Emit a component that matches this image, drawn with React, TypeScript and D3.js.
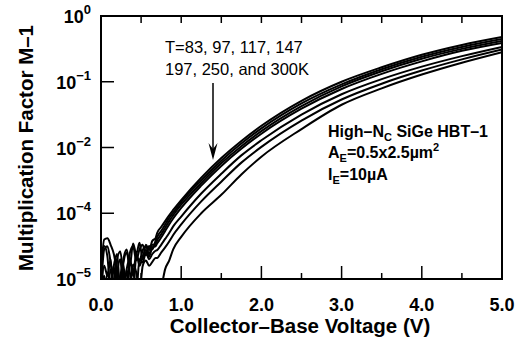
import React from "react";
import * as d3 from "d3";

// Collector-base voltage sample points (V)
const noiseV = [0, 0.04, 0.08, 0.12, 0.16, 0.2, 0.24, 0.28, 0.32, 0.36, 0.4, 0.44, 0.48, 0.52, 0.56, 0.6, 0.64, 0.68];
const riseV = [0.7, 0.75, 0.8, 0.85, 0.9, 1.0, 1.25, 1.5, 1.75, 2.0, 2.5, 3.0, 3.5, 4.0, 4.5, 5.0];

const temps = ["83K", "97K", "117K", "147K", "197K", "250K", "300K"];

// log10(M-1) as plotted (noise floor part)
const noise83 = [-3.9, -3.4, -3.38, -3.48, -3.62, -3.9, -4.2, -3.7, -3.55, -3.8, -3.46, -3.62, -3.45, -3.7, -3.48, -3.56, -3.42, -3.38];
const noise97 = [-4.2, -3.55, -3.5, -3.75, -4.1, -3.7, -3.58, -3.95, -4.2, -3.6, -3.5, -3.72, -3.55, -3.48, -3.64, -3.5, -3.55, -3.42];
const noise117 = [-3.7, -3.5, -3.66, -4.2, -3.8, -3.62, -4.15, -3.75, -3.6, -3.9, -4.2, -3.66, -3.72, -3.56, -3.5, -3.62, -3.48, -3.47];
const noise147 = [-4.3, -3.8, -3.95, -3.7, -4.3, -3.9, -3.7, -4.2, -3.85, -3.68, -3.95, -3.6, -3.8, -3.66, -3.56, -3.66, -3.52, -3.5];
const noise197 = [-4.1, -4.3, -3.9, -4.05, -3.8, -4.3, -3.95, -3.78, -4.3, -3.76, -3.85, -4.2, -3.7, -3.75, -3.6, -3.7, -3.62, -3.57];
const noise250 = [-4.4, -3.95, -4.3, -3.85, -4.1, -4.4, -4.0, -4.3, -3.86, -4.15, -3.78, -3.9, -4.2, -3.8, -3.72, -3.8, -3.74, -3.68];
const noise300 = [-4.6, -4.5, -4.7, -4.6, -4.5, -4.7, -4.6, -4.5, -4.7, -4.6, -4.5, -4.6, -4.7, -4.5, -4.6, -4.5, -4.6, -4.5];

// log10(M-1) rising part
const rise83 = [-3.3, -3.21, -3.12, -3.03, -2.95, -2.8, -2.46, -2.16, -1.9, -1.67, -1.29, -1.0, -0.78, -0.59, -0.44, -0.32];
const rise97 = [-3.36, -3.27, -3.17, -3.07, -2.99, -2.83, -2.5, -2.2, -1.94, -1.71, -1.33, -1.04, -0.81, -0.62, -0.47, -0.35];
const rise117 = [-3.41, -3.32, -3.22, -3.12, -3.03, -2.87, -2.54, -2.24, -1.98, -1.75, -1.37, -1.07, -0.84, -0.65, -0.5, -0.38];
const rise147 = [-3.46, -3.37, -3.27, -3.17, -3.08, -2.92, -2.58, -2.28, -2.02, -1.79, -1.41, -1.11, -0.88, -0.69, -0.53, -0.41];
const rise197 = [-3.56, -3.48, -3.39, -3.3, -3.2, -3.05, -2.7, -2.4, -2.12, -1.89, -1.5, -1.19, -0.96, -0.77, -0.61, -0.47];
const rise250 = [-3.68, -3.6, -3.52, -3.43, -3.33, -3.17, -2.82, -2.52, -2.23, -1.99, -1.59, -1.27, -1.03, -0.83, -0.66, -0.51];
const rise300 = [-4.4, -4.15, -3.85, -3.72, -3.55, -3.36, -3.0, -2.72, -2.41, -2.14, -1.72, -1.35, -1.1, -0.89, -0.71, -0.55];

const noiseSeries = [noise83, noise97, noise117, noise147, noise197, noise250, noise300];
const riseSeries = [rise83, rise97, rise117, rise147, rise197, rise250, rise300];

const xTickValues = [0, 1, 2, 3, 4, 5];
const xTickLabels = ["0.0", "1.0", "2.0", "3.0", "4.0", "5.0"];
const xMinorValues = [0.5, 1.5, 2.5, 3.5, 4.5];
const yTickValues = [1, 1e-1, 1e-2, 1e-3, 1e-4];
const yTickExponents = ["0", "\u22121", "\u22122", "\u22124", "\u22125"];

const W = 522;
const H = 345;
const L = 101, R = 502, T = 16, B = 279;

export default function App() {
  const x = d3.scaleLinear().domain([0, 5]).range([L, R]);
  const y = d3.scaleLog().domain([1e-4, 1]).range([B, T]);
  const line = d3
    .line<[number, number]>()
    .x((d) => x(d[0]))
    .y((d) => y(Math.pow(10, d[1])))
    .curve(d3.curveMonotoneX);

  const series = temps.map((t, k) => {
    const pts: [number, number][] = [];
    noiseV.forEach((v, i) => pts.push([v, noiseSeries[k][i]]));
    riseV.forEach((v, i) => pts.push([v, riseSeries[k][i]]));
    return { t, pts };
  });

  const font = "'Liberation Sans', Arial, Helvetica, sans-serif";
  const ax = 213;

  return (
    <svg
      width={W}
      height={H}
      style={{ position: "absolute", left: 0, top: 0, background: "#fff" }}
      fontFamily={font}
    >
      <defs>
        <clipPath id="plot">
          <rect x={L} y={T} width={R - L} height={B - T} />
        </clipPath>
      </defs>
      <rect x={0} y={0} width={W} height={H} fill="#fff" />

      <g clipPath="url(#plot)">
        {series.map((s) => (
          <path key={s.t} d={line(s.pts) || ""} fill="none" stroke="#000" strokeWidth={2} strokeLinejoin="round" />
        ))}
      </g>

      {/* frame */}
      <rect x={L} y={T} width={R - L} height={B - T} fill="none" stroke="#000" strokeWidth={2} />

      {/* x ticks */}
      {xTickValues.map((v) => (
        <g key={"xt" + v}>
          <line x1={x(v)} x2={x(v)} y1={B} y2={B - 13} stroke="#000" strokeWidth={1.5} />
          <line x1={x(v)} x2={x(v)} y1={T} y2={T + 7} stroke="#000" strokeWidth={1.5} />
        </g>
      ))}
      {xMinorValues.map((v) => (
        <g key={"xm" + v}>
          <line x1={x(v)} x2={x(v)} y1={B} y2={B - 6} stroke="#000" strokeWidth={1.5} />
          <line x1={x(v)} x2={x(v)} y1={T} y2={T + 7} stroke="#000" strokeWidth={1.5} />
        </g>
      ))}
      {xTickValues.map((v, i) => (
        <text key={"xl" + v} x={x(v)} y={311} textAnchor="middle" fontSize={18} fontWeight="bold">
          {xTickLabels[i]}
        </text>
      ))}

      {/* y ticks */}
      {yTickValues.map((v, i) => (
        <g key={"yt" + i}>
          <line x1={L} x2={L + 13} y1={y(v)} y2={y(v)} stroke="#000" strokeWidth={1.5} />
          <text x={91} y={y(v) + 7} textAnchor="end" fontSize={18} fontWeight="bold">
            10
            <tspan dy={-9} fontSize={13}>
              {yTickExponents[i]}
            </tspan>
          </text>
        </g>
      ))}

      {/* axis titles */}
      <text x={300} y={333} textAnchor="middle" fontSize={20.5} fontWeight="bold">
        Collector–Base Voltage (V)
      </text>
      <text
        transform={`translate(33,148) rotate(-90)`}
        textAnchor="middle"
        fontSize={20.5}
        fontWeight="bold"
      >
        Multiplication Factor M–1
      </text>

      {/* annotation */}
      <text x={165} y={53} fontSize={16.5}>
        T=83, 97, 117, 147
      </text>
      <text x={165} y={75} fontSize={16.5}>
        197, 250, and 300K
      </text>
      <line x1={ax} x2={ax} y1={83} y2={150} stroke="#000" strokeWidth={1.5} />
      <path d={`M${ax},160 L${ax - 4.5},143 L${ax},149 L${ax + 4.5},143 Z`} fill="#000" />

      <text x={328} y={137} fontSize={16} fontWeight="bold">
        High–N
        <tspan dy={4} fontSize={11}>C</tspan>
        <tspan dy={-4}> SiGe HBT–1</tspan>
      </text>
      <text x={328} y={158} fontSize={16} fontWeight="bold">
        A
        <tspan dy={4} fontSize={11}>E</tspan>
        <tspan dy={-4}>=0.5x2.5µm</tspan>
        <tspan dy={-7} fontSize={11}>2</tspan>
      </text>
      <text x={328} y={180} fontSize={16} fontWeight="bold">
        I
        <tspan dy={4} fontSize={11}>E</tspan>
        <tspan dy={-4}>=10µA</tspan>
      </text>
    </svg>
  );
}
